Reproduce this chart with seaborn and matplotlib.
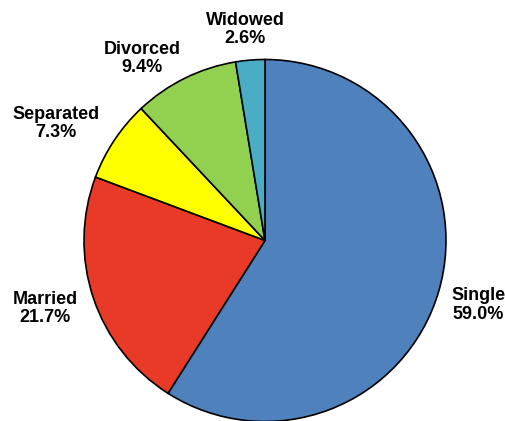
import numpy as np
import matplotlib
matplotlib.use("Agg")
import matplotlib.pyplot as plt
import seaborn as sns

categories = ["Single", "Married", "Separated", "Divorced", "Widowed"]
values = [59.0, 21.7, 7.3, 9.4, 2.6]
colors = ["#4F81BD", "#E83A27", "#FFFF00", "#92D050", "#4BACC6"]
label_dist = [1.230, 1.272, 1.324, 1.214, 1.170]
label_shift = [-0.65, -1.3, 4.5, 7.8, 0.7]  # degrees from wedge mid-angle

sns.set_theme(style="white")
plt.rcParams["font.family"] = ["Liberation Sans", "DejaVu Sans"]

W, H = 505, 421
fig = plt.figure(figsize=(W / 100, H / 100), dpi=100)
cx, cy, r = 265, 240.5, 181
ax = fig.add_axes([(cx - r) / W, (H - cy - r) / H, 2 * r / W, 2 * r / H])

wedges, _ = ax.pie(values, colors=colors, startangle=90, counterclock=False,
                   radius=1, wedgeprops=dict(edgecolor="black", linewidth=1.2),
                   normalize=True)
ax.set_aspect("auto")
ax.set_xlim(-1, 1)
ax.set_ylim(-1, 1)
ax.axis("off")
for w in wedges:
    w.set_clip_on(False)

for w, cat, v, d, s in zip(wedges, categories, values, label_dist, label_shift):
    ang = np.deg2rad((w.theta1 + w.theta2) / 2 + s)
    x, y = d * np.cos(ang), d * np.sin(ang)
    ax.text(x, y, f"{cat}\n{v:.1f}%", ha="center", va="center",
            fontsize=13, fontweight="bold", color="black", linespacing=1.1,
            clip_on=False)

fig.savefig("out.png", dpi=100)
